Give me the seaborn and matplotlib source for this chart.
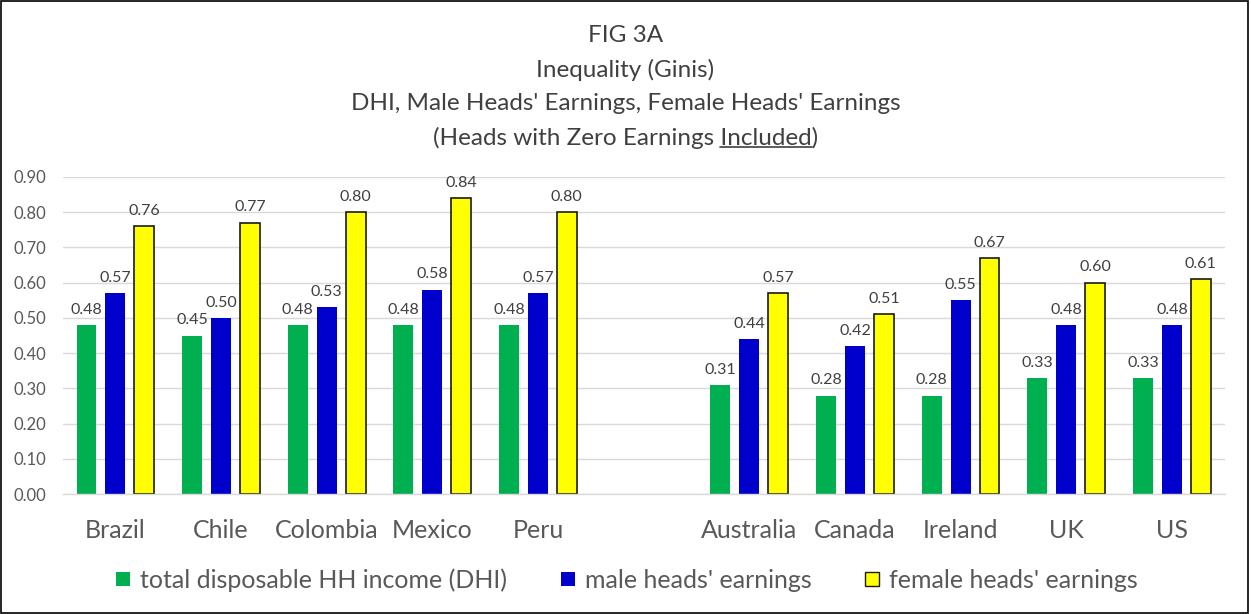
import numpy as np
import pandas as pd
import seaborn as sns
import matplotlib.pyplot as plt
from matplotlib.lines import Line2D
from matplotlib.patches import Rectangle

# Chart data (Gini coefficients)
countries = ['Brazil', 'Chile', 'Colombia', 'Mexico', 'Peru', ' ',
             'Australia', 'Canada', 'Ireland', 'UK', 'US']
series = ['total disposable HH income (DHI)', "male heads' earnings", "female heads' earnings"]
dhi = [0.48, 0.45, 0.48, 0.48, 0.48, np.nan, 0.31, 0.28, 0.28, 0.33, 0.33]
male = [0.57, 0.50, 0.53, 0.58, 0.57, np.nan, 0.44, 0.42, 0.55, 0.48, 0.48]
female = [0.76, 0.77, 0.80, 0.84, 0.80, np.nan, 0.57, 0.51, 0.67, 0.60, 0.61]
colors = ['#00B050', '#0000CC', '#FFFF00']
yticks = [0.0, 0.1, 0.2, 0.3, 0.4, 0.5, 0.6, 0.7, 0.8, 0.9]

df = pd.DataFrame({
    'country': countries * 3,
    'series': [series[0]] * 11 + [series[1]] * 11 + [series[2]] * 11,
    'gini': dhi + male + female,
})

sns.set_theme(style='white')
plt.rcParams['font.family'] = ['Lato', 'DejaVu Sans']
text_dark = '#404040'
text_grey = '#595959'

fig = plt.figure(figsize=(12.51, 6.14), dpi=100)
ax = fig.add_axes([0.050, 0.195, 0.929, 0.517])

sns.barplot(data=df, x='country', y='gini', hue='series', order=countries,
            hue_order=series, palette=colors, width=0.82, gap=0.31,
            saturation=1, errorbar=None, ax=ax)

ax.get_legend().remove()
for i, cont in enumerate(ax.containers):
    for bar in cont:
        if i == 2:
            bar.set_edgecolor('#1a1a1a')
            bar.set_linewidth(1.2)
        else:
            bar.set_linewidth(0)
    labels = ['' if np.isnan(v) else f'{v:.2f}' for v in cont.datavalues]
    ax.bar_label(cont, labels=labels, padding=6, fontsize=11.5, color=text_dark)

ax.set_ylim(0, 0.9)
ax.set_xlim(-0.5, len(countries) - 0.5)
ax.set_yticks(yticks)
ax.set_yticklabels([f'{v:.2f}' for v in yticks], fontsize=12, color=text_grey)
ax.yaxis.grid(True, color='#d9d9d9', linewidth=1)
ax.set_axisbelow(True)
ax.tick_params(axis='y', length=0, pad=12)
ax.tick_params(axis='x', length=0, pad=18, labelsize=18, labelcolor=text_grey)
ax.set_xlabel('')
ax.set_ylabel('')
for s in ['top', 'right', 'left']:
    ax.spines[s].set_visible(False)
ax.spines['bottom'].set_color('#d9d9d9')
ax.spines['bottom'].set_linewidth(1)

# Titles
title_size = 17.5
title_lines = ['FIG 3A', 'Inequality (Ginis)', "DHI, Male Heads' Earnings, Female Heads' Earnings"]
ys = [0.942, 0.886, 0.832]
for line, y in zip(title_lines, ys):
    fig.text(0.5, y, line, ha='center', va='center', fontsize=title_size, color=text_dark)
last = '(Heads with Zero Earnings Included)'
t4 = fig.text(0.5, 0.776, last, ha='center', va='center', fontsize=title_size, color=text_dark)

# underline the word "Included"
fig.canvas.draw()
r = fig.canvas.get_renderer()
bb = t4.get_window_extent(r)
def text_w(s):
    tmp = fig.text(0, 0, s, fontsize=title_size)
    w = tmp.get_window_extent(r).width
    tmp.remove()
    return w
x_end = bb.x0 + text_w('(Heads with Zero Earnings Included')
x_start = x_end - text_w('Included')
W, H = fig.get_size_inches() * fig.dpi
y_line = bb.y0 + 2
fig.add_artist(Line2D([x_start / W, x_end / W], [y_line / H, y_line / H],
                      color=text_dark, linewidth=1.2, transform=fig.transFigure))

# Legend
handles = [Line2D([], [], marker='s', linestyle='', markersize=10,
                  markerfacecolor=c, markeredgecolor=('#1a1a1a' if i == 2 else c),
                  markeredgewidth=(1 if i == 2 else 0))
           for i, c in enumerate(colors)]
leg = fig.legend(handles, series, loc='center', bbox_to_anchor=(0.5, 0.055), ncol=3,
                 frameon=False, fontsize=18, handletextpad=0.3, columnspacing=2.0,
                 handlelength=0.8)
for txt in leg.get_texts():
    txt.set_color(text_grey)

# thin frame around the figure
fig.add_artist(Rectangle((0.001, 0.002), 0.997, 0.996, transform=fig.transFigure,
                         fill=False, edgecolor='#000000', linewidth=1.2))

fig.savefig('out.png', dpi=100)
